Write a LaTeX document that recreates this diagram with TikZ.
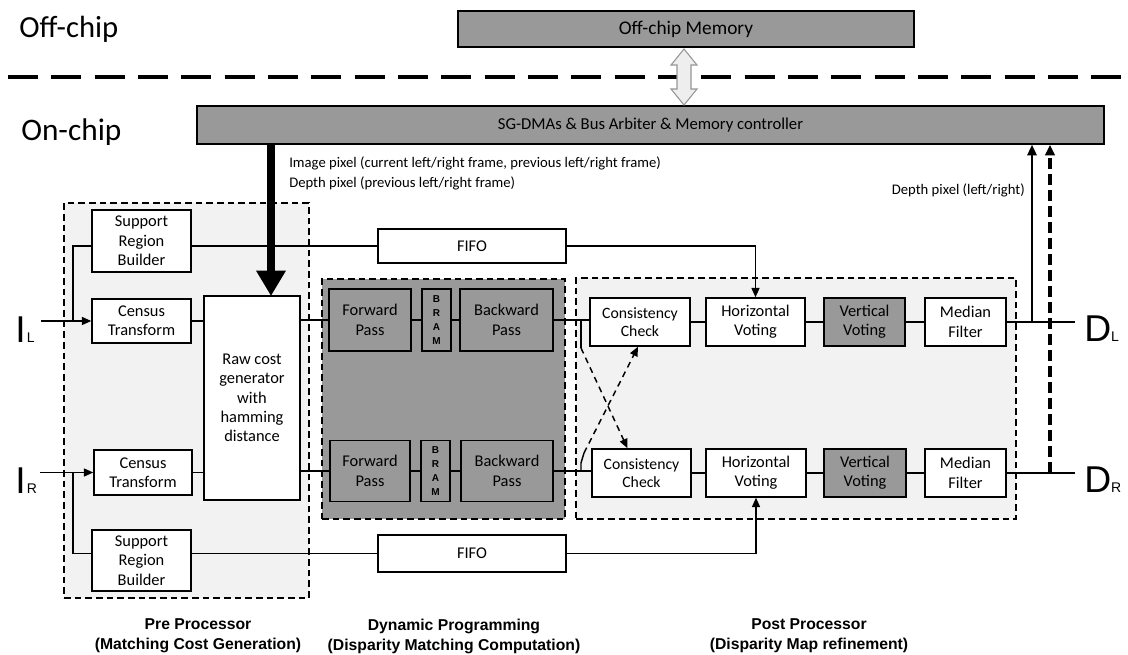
\documentclass[tikz,border=0pt]{standalone}
\usepackage{fontspec}
\setmainfont{Carlito}
\newfontfamily\labelfont{Liberation Sans}
\usetikzlibrary{arrows.meta,calc}
\definecolor{blockgray}{RGB}{153,153,153}
\definecolor{zonegray}{RGB}{242,242,242}
\definecolor{busfill}{RGB}{238,238,238}
\definecolor{busline}{RGB}{150,150,150}

\begin{document}
\begin{tikzpicture}[x=0.75pt,y=-0.75pt,
  sz/.style 2 args={minimum width=#1*0.75pt, minimum height=#2*0.75pt},
  blk/.style={draw=black, line width=1.1pt, fill=white, inner sep=0pt, align=center,
              font=\fontsize{12.3}{14.5}\selectfont},
  gblk/.style={blk, fill=blockgray},
  zone/.style={draw=black, line width=1.1pt, dash pattern=on 5pt off 3pt, inner sep=0pt},
  wire/.style={line width=1.1pt},
  arr/.style={wire, -{Triangle[length=7pt,width=6pt]}},
  dwire/.style={wire, dash pattern=on 4.5pt off 3.5pt},
  big/.style={font=\labelfont\fontsize{28}{28}\selectfont, inner sep=0pt, anchor=base west},
  note/.style={font=\fontsize{11}{15}\selectfont, inner sep=0pt},
  caption/.style={font=\labelfont\bfseries\fontsize{11.8}{15}\selectfont, align=center, inner sep=0pt},
  bramtxt/.style={font=\labelfont\bfseries\fontsize{7.5}{10.5}\selectfont}
]
\useasboundingbox (0,0) rectangle (1128,655);

% ---------- off-chip / on-chip ----------
\node[anchor=west, inner sep=0pt, font=\fontsize{23}{27}\selectfont] (offlbl) at (19,29) {Off-chip};
\node[anchor=west, inner sep=0pt, font=\fontsize{23.5}{27}\selectfont] (onlbl) at (21,132) {On-chip};
\node[gblk, sz={456}{36}, font=\fontsize{14.5}{16}\selectfont] (offmem) at (686,29) {Off-chip Memory};
\node[gblk, sz={907}{38}, font=\fontsize{12.5}{14}\selectfont] (sgdma) at (650.5,125) {SG-DMAs \& Bus Arbiter \& Memory controller};

% chip boundary
\coordinate (sepL) at (8,77);
\coordinate (sepR) at (1128,77);
\draw[line width=3pt, dash pattern=on 22.5pt off 10pt] (sepL) -- (sepR);

% memory bus (hollow double arrow)
\coordinate (bt) at (684,49);
\coordinate (bb) at (684,105);
\draw[draw=busline, fill=busfill, line width=0.8pt, line join=miter]
  (bt) -- ++(13,16) -- ++(-6,0) -- ++(0,24) -- ++(6,0) -- (bb)
       -- ++(-13,-16) -- ++(6,0) -- ++(0,-24) -- ++(-6,0) -- cycle;

% ---------- processing zones ----------
\node[zone, fill=zonegray, sz={245}{395}] (prezone) at (186.5,400.5) {};
\node[zone, fill=blockgray, sz={243}{240}] (dpzone) at (443.5,399) {};
\node[zone, fill=zonegray, sz={440}{241}] (postzone) at (796,398.5) {};

% ---------- pre processor ----------
\node[blk, sz={99}{62}] (srbT) at (141.5,241) {Support\\Region\\Builder};
\node[blk, sz={99}{44}] (ctT) at (141.5,321) {Census\\Transform};
\node[blk, sz={96}{204}] (raw) at (252,398) {Raw cost\\generator\\with\\hamming\\distance};
\node[blk, sz={98}{45}] (ctB) at (143,472.5) {Census\\Transform};
\node[blk, sz={99}{61}] (srbB) at (141.5,560.5) {Support\\Region\\Builder};

% ---------- FIFOs ----------
\node[blk, sz={188}{34}] (fifoT) at (472,246) {FIFO};
\node[blk, sz={188}{37}] (fifoB) at (472,553.5) {FIFO};

% ---------- dynamic programming ----------
\node[gblk, sz={82}{62}] (fpT) at (370,320) {Forward\\Pass};
\node[gblk, sz={29}{62}, bramtxt] (brT) at (436.5,320) {B\\R\\A\\M};
\node[gblk, sz={93}{62}] (bpT) at (506.5,320) {Backward\\Pass};
\node[gblk, sz={80}{61}] (fpB) at (370,471) {Forward\\Pass};
\node[gblk, sz={29}{61}, bramtxt] (brB) at (435.5,471) {B\\R\\A\\M};
\node[gblk, sz={92}{61}] (bpB) at (507,471) {Backward\\Pass};

% ---------- post processor ----------
\node[blk, sz={100}{48}, font=\fontsize{11.8}{14}\selectfont] (ccT) at (640,322) {Consistency\\Check};
\node[blk, sz={99}{48}] (hvT) at (755.5,322) {Horizontal\\Voting};
\node[gblk, sz={81}{48}] (vvT) at (864.5,322) {Vertical\\Voting};
\node[blk, sz={81}{48}] (mfT) at (965.5,322) {Median\\Filter};
\node[blk, sz={99}{48}, font=\fontsize{11.8}{14}\selectfont] (ccB) at (641.5,473) {Consistency\\Check};
\node[blk, sz={100}{48}] (hvB) at (756,473) {Horizontal\\Voting};
\node[gblk, sz={82}{48}] (vvB) at (865,473) {Vertical\\Voting};
\node[blk, sz={81}{48}] (mfB) at (965.5,473) {Median\\Filter};

% ---------- inputs / outputs ----------
\node[big] (il) at (15,343) {I\kern1pt{\fontsize{10.5}{10.5}\selectfont L}};
\node[big] (ir) at (15,494) {I\kern1pt{\fontsize{10.5}{10.5}\selectfont R}};
\node[big] (dl) at (1084,342) {D{\fontsize{10.5}{10.5}\selectfont L}};
\node[big] (dr) at (1084,493) {D{\fontsize{10.5}{10.5}\selectfont R}};

% ---------- captions and notes ----------
\node[caption] (cpre) at (198,636) {Pre Processor\\(Matching Cost Generation)};
\node[caption] (cdp) at (454,636) {Dynamic Programming\\(Disparity Matching Computation)};
\node[caption] (cpost) at (809,636) {Post Processor\\(Disparity Map refinement)};
\node[note, anchor=west] (nimg) at (289,163) {Image pixel (current left/right frame, previous left/right frame)};
\node[note, anchor=west] (ndep) at (289,183) {Depth pixel (previous left/right frame)};
\node[note, anchor=east] (nout) at (1025,190) {Depth pixel (left/right)};

% ---------- connectors ----------
% pixel stream from the memory controller
\coordinate (pix) at (271,296);
\draw[line width=6pt, -{Triangle[length=19pt,width=21pt]}] (pix |- sgdma.south) -- (pix);

% image inputs and branches to the support region builders
\coordinate (brx) at (73,0);
\draw[arr] ($(il.east |- ctT.west)+(6,0)$) -- (ctT.west);
\draw[arr] ($(ir.east |- ctB.west)+(3,0)$) -- (ctB.west);
\draw[wire] (brx |- ctT.west) |- (srbT.west |- fifoT.west);
\draw[wire] (brx |- ctB.west) |- (srbB.west |- fifoB.west);

% pre processor to dynamic programming
\draw[wire] (ctT.east) -- (ctT.east -| raw.west);
\draw[wire] (ctB.east) -- (ctB.east -| raw.west);
\draw[wire] (raw.east |- fpT.west) -- (fpT.west);
\draw[wire] (raw.east |- fpB.west) -- (fpB.west);

% support regions through the FIFOs to horizontal voting
\draw[wire] (srbT.east |- fifoT.west) -- (fifoT.west);
\draw[wire] (srbB.east |- fifoB.west) -- (fifoB.west);
\draw[arr] (fifoT.east) -| (hvT.north);
\draw[arr] (fifoB.east) -| (hvB.south);

% dynamic programming chains
\draw[wire] (fpT.east) -- (brT.west);
\draw[wire] (brT.east) -- (bpT.west);
\draw[wire] (fpB.east) -- (brB.west);
\draw[wire] (brB.east) -- (bpB.west);
\draw[wire] (bpT.east) -- (bpT.east -| ccT.west);
\draw[wire] (bpB.east) -- (bpB.east -| ccB.west);

% cross feed between left and right consistency checks
\coordinate (jx) at (581,0);
\draw[wire] (jx |- bpT.east) -- ++(0,28) coordinate (jT2);
\draw[dwire, -{Triangle[length=7pt,width=6pt]}] (jT2) -- ($(ccB.north)+(-14,0)$);
\draw[wire] (jx |- bpB.east) -- ++(0,-8) -- ++(3,-10) coordinate (jB2);
\draw[dwire, -{Triangle[length=7pt,width=6pt]}] (jB2) -- ($(ccT.south)+(-2,0)$);

% refinement chains
\draw[wire] (ccT.east) -- (hvT.west);
\draw[wire] (hvT.east) -- (vvT.west);
\draw[wire] (vvT.east) -- (mfT.west);
\draw[wire] (ccB.east) -- (hvB.west);
\draw[wire] (hvB.east) -- (vvB.west);
\draw[wire] (vvB.east) -- (mfB.west);
\draw[wire] (mfT.east) -- ($(dl.west |- mfT.east)+(-9,0)$);
\draw[wire] (mfB.east) -- ($(dr.west |- mfB.east)+(-9,0)$);

% depth maps written back to memory
\coordinate (upS) at (1032,0);
\coordinate (upD) at (1050,0);
\draw[line width=1.6pt, -{Triangle[length=8pt,width=7pt]}] (upS |- mfT.east) -- (upS |- sgdma.south);
\draw[line width=2.4pt, dash pattern=on 8pt off 4pt, -{Triangle[length=8pt,width=7pt]}] (upD |- mfB.east) -- (upD |- sgdma.south);
\end{tikzpicture}
\end{document}
